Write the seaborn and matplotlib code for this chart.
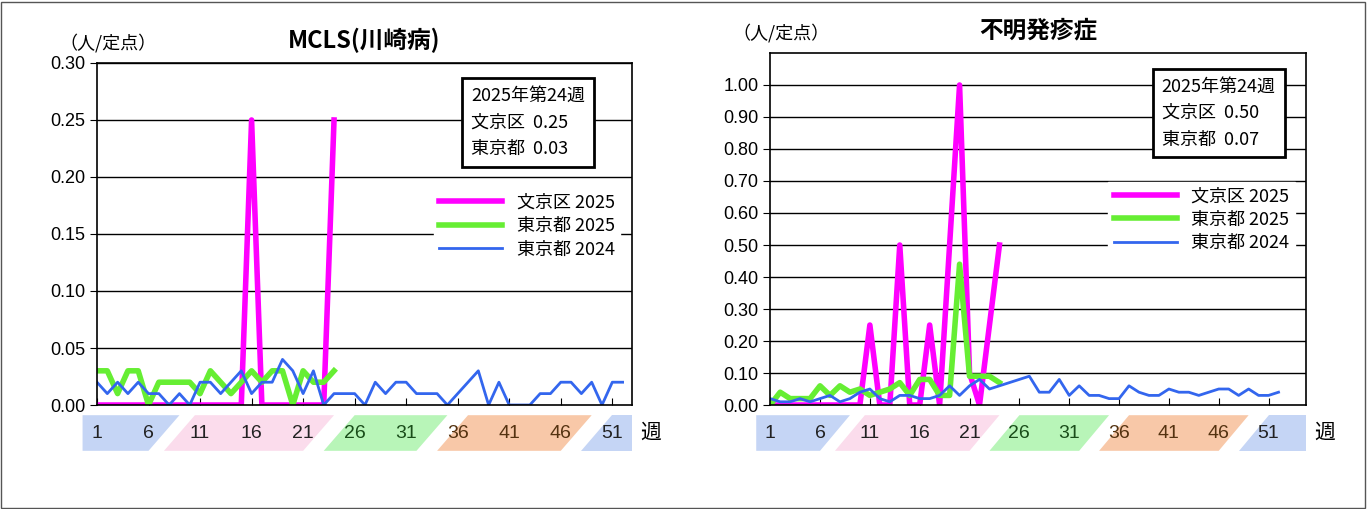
import matplotlib
matplotlib.use("Agg")
import matplotlib.pyplot as plt
import seaborn as sns
import pandas as pd
import numpy as np
from matplotlib.patches import Polygon, Rectangle

plt.rcParams["font.family"] = "Noto Sans CJK JP"

weeks_2025 = list(range(1, 25))
weeks_2024 = list(range(1, 53))

# MCLS
mcls_bunkyo_2025 = [0,0,0,0,0,0,0,0,0,0,0,0,0,0,0,0.25,0,0,0,0,0,0,0,0.25]
mcls_tokyo_2025 = [0.03,0.03,0.01,0.03,0.03,0.0,0.02,0.02,0.02,0.02,0.01,0.03,0.02,0.01,0.02,0.03,0.02,0.03,0.03,0.0,0.03,0.02,0.02,0.03]
mcls_tokyo_2024 = [0.02,0.01,0.02,0.01,0.02,0.01,0.01,0,0.01,0,0.02,0.02,0.01,0.02,0.03,0.01,0.02,0.02,0.04,0.03,0.01,0.03,0,0.01,
                   0.01,0.01,0,0.02,0.01,0.02,0.02,0.01,0.01,0.01,0,0.01,0.02,0.03,0,0.02,0,0,0,0.01,0.01,0.02,0.02,0.01,0.02,0,0.02,0.02]
# 不明発疹症
fu_bunkyo_2025 = [0,0,0,0,0,0,0,0,0,0,0.25,0,0,0.5,0,0,0.25,0,0.5,1.0,0.1,0,0.25,0.5]
fu_tokyo_2025 = [0,0.04,0.02,0.02,0.02,0.06,0.03,0.06,0.04,0.05,0.03,0.04,0.05,0.07,0.03,0.08,0.08,0.03,0.03,0.44,0.09,0.09,0.09,0.07]
fu_tokyo_2024 = [0.02,0.01,0.01,0.02,0.01,0.02,0.03,0.01,0.02,0.04,0.05,0.02,0.01,0.03,0.03,0.02,0.02,0.03,0.06,0.03,0.06,0.08,0.05,0.06,
                 0.07,0.08,0.09,0.04,0.04,0.08,0.03,0.06,0.03,0.03,0.02,0.02,0.06,0.04,0.03,0.03,0.05,0.04,0.04,0.03,0.04,0.05,0.05,0.03,0.05,0.03,0.03,0.04]

tick_weeks = [1,6,11,16,21,26,31,36,41,46,51]

fig = plt.figure(figsize=(13.68, 5.09), dpi=100)
fig.patches.append(Rectangle((0.001,0.002),0.997,0.995,transform=fig.transFigure,fill=False,edgecolor="#555",lw=1))

def panel(rect, title, b25, t25, t24, ymax, yticks, fmt, xmax, box):
    ax = fig.add_axes(rect)
    sns.lineplot(x=weeks_2025, y=b25, ax=ax, color="#ff00ff", lw=4, label="文京区 2025")
    sns.lineplot(x=weeks_2025, y=t25, ax=ax, color="#66ee33", lw=4, label="東京都 2025")
    sns.lineplot(x=weeks_2024, y=t24, ax=ax, color="#3366ee", lw=2, label="東京都 2024")
    ax.set_xlim(1, xmax); ax.set_ylim(0, ymax)
    ax.set_yticks(yticks); ax.set_yticklabels([fmt % v for v in yticks], fontsize=13, family="Liberation Sans")
    for v in yticks[1:]:
        ax.axhline(v, color="black", lw=1, zorder=0)
    ax.set_xticks(tick_weeks); ax.set_xticklabels([])
    ax.tick_params(axis="x", direction="in", length=5)
    ax.tick_params(axis="y", direction="out", length=5)
    for s in ax.spines.values(): s.set_linewidth(1.2)
    ax.set_xlabel(""); ax.set_ylabel("")
    ax.legend(loc="upper right", bbox_to_anchor=(0.995, 0.66), fontsize=13, frameon=True,
              fancybox=False, edgecolor="white", facecolor="white", framealpha=1, handlelength=3.5, borderpad=0.3, labelspacing=0.3)
    ax.text(0.5, 1.03, title, transform=ax.transAxes, ha="center", va="bottom", fontsize=17, weight="bold")
    ax.text(-0.07, 1.03, "（人/定点）", transform=ax.transAxes, ha="left", va="bottom", fontsize=13)
    ax.text(box[0], box[1], box[2], transform=ax.transAxes, ha="left", va="top", fontsize=13, linespacing=1.6,
            bbox=dict(boxstyle="square,pad=0.5", facecolor="white", edgecolor="black", lw=2))
    # week band
    p = ax.get_position()
    bx = fig.add_axes([p.x0, p.y0 - 0.09, p.width, 0.07])
    bx.set_xlim(1, xmax); bx.set_ylim(0, 1); bx.axis("off")
    segs = [(-0.4, 7.5, "#c5d5f5"), (7.5, 22.5, "#fbdcec"), (23.0, 33.5, "#b8f5b8"), (34.0, 47.5, "#f8c8a8"), (48.0, xmax, "#c5d5f5")]
    for a, b_, c in segs:
        if a < 0:
            pts = [(a, 0), (b_ - 1.5, 0), (b_ + 1.5, 1), (a, 1)]
        elif b_ >= xmax:
            pts = [(a, 0), (b_, 0), (b_, 1), (a + 3, 1)]
        else:
            pts = [(a, 0), (b_ - 1.5, 0), (b_ + 1.5, 1), (a + 3, 1)]
        bx.add_patch(Polygon(pts, color=c, lw=0, clip_on=False))
    for w in tick_weeks:
        col = "#1a4d1a" if w in (26, 31) else ("#553311" if w in (36, 41, 46) else "#222")
        bx.text(w, 0.5, str(w), ha="center", va="center", fontsize=14, family="Liberation Sans", color=col)
    bx.text(xmax + 0.8, 0.5, "週", ha="left", va="center", fontsize=15)
    return ax

panel([0.0709, 0.2043, 0.391, 0.672], "MCLS(川崎病)", mcls_bunkyo_2025, mcls_tokyo_2025, mcls_tokyo_2024,
      0.30, [0, 0.05, 0.10, 0.15, 0.20, 0.25, 0.30], "%.2f", 52.9, (0.70, 0.93, "2025年第24週\n文京区  0.25\n東京都  0.03"))
panel([0.563, 0.2043, 0.392, 0.6916], "不明発疹症", fu_bunkyo_2025, fu_tokyo_2025, fu_tokyo_2024,
      1.10, [round(0.1*i, 2) for i in range(11)], "%.2f", 54.8, (0.73, 0.93, "2025年第24週\n文京区  0.50\n東京都  0.07"))

fig.savefig("out.png", dpi=100)
